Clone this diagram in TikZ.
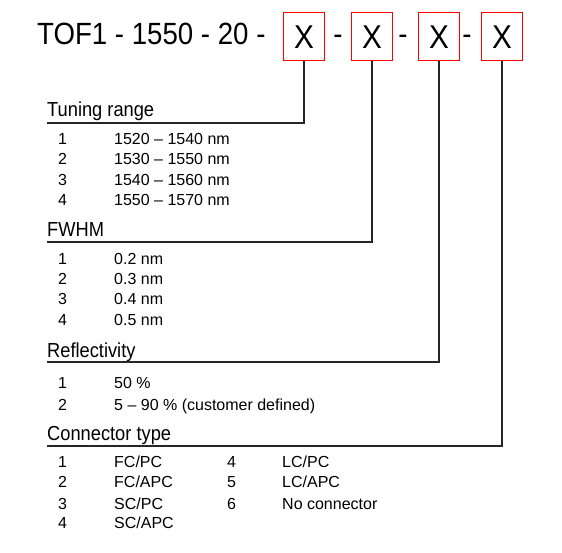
\documentclass[tikz,border=0pt]{standalone}
\usepackage{fontspec}
\setmainfont{Liberation Sans}
\newfontfamily\ttlfont[FakeStretch=0.9]{Liberation Sans}
\usetikzlibrary{positioning}

\begin{document}
\begin{tikzpicture}[x=1pt,y=-1pt,
  ttl/.style={inner sep=0pt,anchor=base west,font=\ttlfont\fontsize{30.7}{31}\selectfont},
  dsh/.style={inner sep=0pt,anchor=base,font=\ttlfont\fontsize{30.7}{31}\selectfont},
  sel/.style={rectangle,draw=red,line width=1pt,minimum width=41pt,minimum height=48pt,inner sep=0pt,font=\ttlfont\fontsize{33}{33}\selectfont},
  hd/.style={inner sep=0pt,anchor=base west,font=\ttlfont\fontsize{20.3}{21}\selectfont},
  it/.style={inner sep=0pt,anchor=base west,font=\fontsize{16}{16}\selectfont},
  ln/.style={line width=1.1pt,black!85}]
\useasboundingbox (0,0) rectangle (562,553);
% part number
\node[ttl](pn) at (37,45){TOF1 - 1550 - 20 -};
\node[sel](b1) at (304,37){X};
\node[dsh](d1) at (338,45){-};
\node[sel](b2) at (372,37){X};
\node[dsh](d2) at (403,45){-};
\node[sel](b3) at (439,37){X};
\node[dsh](d3) at (467,45){-};
\node[sel](b4) at (502,37){X};
% tuning range
\node[hd](trh) at (47,117){Tuning range};
\coordinate (tr) at (47,123);
\node[it](tr1) at (58,145){1};\node[it](tr1v) at (114,145){1520 -- 1540 nm};
\node[it](tr2) at (58,165){2};\node[it](tr2v) at (114,165){1530 -- 1550 nm};
\node[it](tr3) at (58,186){3};\node[it](tr3v) at (114,186){1540 -- 1560 nm};
\node[it](tr4) at (58,206){4};\node[it](tr4v) at (114,206){1550 -- 1570 nm};
% fwhm
\node[hd](fwh) at (47,237){FWHM};
\coordinate (fw) at (47,242);
\node[it](fw1) at (58,265){1};\node[it](fw1v) at (114,265){0.2 nm};
\node[it](fw2) at (58,285){2};\node[it](fw2v) at (114,285){0.3 nm};
\node[it](fw3) at (58,305){3};\node[it](fw3v) at (114,305){0.4 nm};
\node[it](fw4) at (58,325){4};\node[it](fw4v) at (114,325){0.5 nm};
% reflectivity
\node[hd](rfh) at (47,357){Reflectivity};
\coordinate (rf) at (47,362);
\node[it](rf1) at (58,388){1};\node[it](rf1v) at (114,388){50 \%};
\node[it](rf2) at (58,410){2};\node[it](rf2v) at (114,410){5 -- 90 \% (customer defined)};
% connector type
\node[hd](cth) at (47,440){Connector type};
\coordinate (ct) at (47,446);
\node[it](ct1) at (58,467){1};\node[it](ct1v) at (114,467){FC/PC};
\node[it](ct2) at (58,487){2};\node[it](ct2v) at (114,487){FC/APC};
\node[it](ct3) at (58,509){3};\node[it](ct3v) at (114,509){SC/PC};
\node[it](ct4) at (58,528){4};\node[it](ct4v) at (114,528){SC/APC};
\node[it](ct5) at (227,467){4};\node[it](ct5v) at (282,467){LC/PC};
\node[it](ct6) at (227,487){5};\node[it](ct6v) at (282,487){LC/APC};
\node[it](ct7) at (227,509){6};\node[it](ct7v) at (282,509){No connector};
% leaders
\draw[ln](b1.south)|-(tr);
\draw[ln](b2.south)|-(fw);
\draw[ln](b3.south)|-(rf);
\draw[ln](b4.south)|-(ct);
\end{tikzpicture}
\end{document}
